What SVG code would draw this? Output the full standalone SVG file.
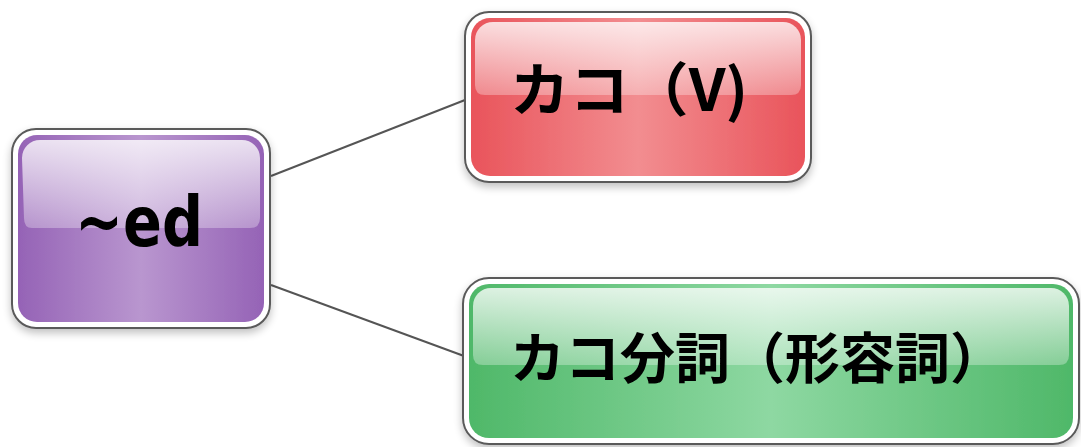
<svg xmlns="http://www.w3.org/2000/svg" width="1081" height="447" viewBox="0 0 1081 447">
<defs>
<linearGradient id="gP" x1="0" y1="0" x2="1" y2="0">
<stop offset="0" stop-color="#9563b6"/><stop offset="0.5" stop-color="#b996cf"/><stop offset="1" stop-color="#9563b6"/>
</linearGradient>
<linearGradient id="gR" x1="0" y1="0" x2="1" y2="0">
<stop offset="0" stop-color="#e9545b"/><stop offset="0.5" stop-color="#f28d90"/><stop offset="1" stop-color="#e9545b"/>
</linearGradient>
<linearGradient id="gG" x1="0" y1="0" x2="1" y2="0">
<stop offset="0" stop-color="#4fb869"/><stop offset="0.5" stop-color="#8ed8a2"/><stop offset="1" stop-color="#4fb869"/>
</linearGradient>
<linearGradient id="gloss" x1="0" y1="0" x2="0" y2="1">
<stop offset="0" stop-color="#fff" stop-opacity="0.8"/><stop offset="1" stop-color="#fff" stop-opacity="0.3"/>
</linearGradient>
<filter id="sh" x="-10%" y="-10%" width="120%" height="130%">
<feGaussianBlur in="SourceAlpha" stdDeviation="4"/><feOffset dy="4"/>
<feComponentTransfer><feFuncA type="linear" slope="0.25"/></feComponentTransfer>
<feMerge><feMergeNode/><feMergeNode in="SourceGraphic"/></feMerge>
</filter>
</defs>
<style>
.outer{fill:#fff;stroke:#5a5a5a;stroke-width:2}
.lbl{font-family:"Noto Sans CJK JP","DejaVu Sans",sans-serif;font-weight:bold;fill:#000}
.conn{stroke:#555;stroke-width:2;fill:none}
</style>
<rect width="1081" height="447" fill="#fff"/>
<g id="connectors">
<line class="conn" x1="271" y1="176" x2="465" y2="100"/>
<line class="conn" x1="271" y1="285" x2="464" y2="356"/>
</g>
<g id="node-ed" filter="url(#sh)">
<rect class="outer" x="12" y="129" width="258" height="199" rx="24"/>
<rect x="18" y="135" width="246" height="187" rx="19" fill="url(#gP)"/>
<path d="M22,158 a18,18 0 0 1 18,-18 h202 a18,18 0 0 1 18,18 v60 q0,10 -10,10 h-218 q-8,0 -8,-10 z" fill="url(#gloss)"/>
<text class="lbl" x="139" y="246" font-size="70" text-anchor="middle" textLength="128" lengthAdjust="spacingAndGlyphs" style="font-family:'DejaVu Sans',sans-serif">~ed</text>
</g>
<g id="node-kako" filter="url(#sh)">
<rect class="outer" x="465" y="12" width="346" height="170" rx="24"/>
<rect x="471" y="18" width="334" height="158" rx="19" fill="url(#gR)"/>
<path d="M475,40 a18,18 0 0 1 18,-18 h290 a18,18 0 0 1 18,18 v45 q0,10 -10,10 h-306 q-10,0 -10,-10 z" fill="url(#gloss)"/>
<text class="lbl" x="510" y="111" font-size="58" textLength="238" lengthAdjust="spacingAndGlyphs">カコ（V)</text>
</g>
<g id="node-bunshi" filter="url(#sh)">
<rect class="outer" x="463" y="278" width="616" height="166" rx="26"/>
<rect x="469" y="284" width="604" height="154" rx="20" fill="url(#gG)"/>
<path d="M473,306 a18,18 0 0 1 18,-18 h560 a18,18 0 0 1 18,18 v49 q0,10 -10,10 h-576 q-10,0 -10,-10 z" fill="url(#gloss)"/>
<text class="lbl" x="510" y="378" font-size="55">カコ分詞（形容詞）</text>
</g>
</svg>
